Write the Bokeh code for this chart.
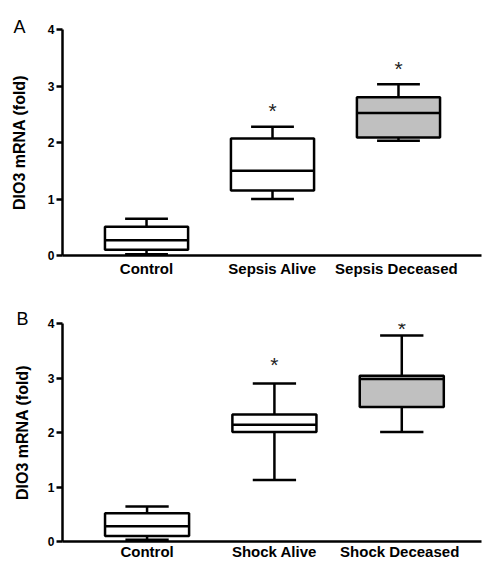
from bokeh.plotting import figure
from bokeh.layouts import column
from bokeh.models import ColumnDataSource, FixedTicker
from bokeh.embed import file_html
from bokeh.resources import INLINE

# ---------------- data ----------------
y_ticks = [0, 1, 2, 3, 4]
y_label = "DIO3 mRNA (fold)"

a_letter = "A"
a_categories = ["Control", "Sepsis Alive", "Sepsis  Deceased"]
a_low = [0.02, 1.00, 2.03]
a_q1 = [0.10, 1.15, 2.09]
a_median = [0.27, 1.50, 2.52]
a_q3 = [0.51, 2.07, 2.80]
a_high = [0.65, 2.28, 3.03]
a_star_groups = [2, 3]
a_star_y = [2.65, 3.39]

b_letter = "B"
b_categories = ["Control", "Shock Alive", "Shock  Deceased"]
b_low = [0.03, 1.13, 2.01]
b_q1 = [0.10, 2.01, 2.47]
b_median = [0.28, 2.14, 2.98]
b_q3 = [0.52, 2.33, 3.04]
b_high = [0.64, 2.90, 3.78]
b_star_groups = [2, 3]
b_star_y = [3.34, 4.00]

box_fills = ["white", "white", "#c0c0c0"]

FONT = "Liberation Sans"
BOX_W = 0.66
CAP_W = 0.34
LW = 2.5


def make_panel(cats, low, q1, med, q3, high, star_x, star_y, letter,
               width, height, b_left, b_right, b_top, b_bottom, x_range,
               label_standoff, letter_offset, letter_standoff, cat_standoff):
    xs = list(range(1, len(cats) + 1))
    src = ColumnDataSource(dict(
        x=xs, low=low, q1=q1, med=med, q3=q3, high=high, fill=box_fills,
        xl=[x - BOX_W / 2 for x in xs], xr=[x + BOX_W / 2 for x in xs],
        cl=[x - CAP_W / 2 for x in xs], cr=[x + CAP_W / 2 for x in xs],
    ))
    p = figure(width=width, height=height, x_range=x_range, y_range=(0, 4),
               output_backend="svg", toolbar_location=None,
               min_border_left=b_left, min_border_right=b_right,
               min_border_top=b_top, min_border_bottom=b_bottom)
    p.outline_line_color = None
    p.grid.visible = False
    p.background_fill_color = "white"
    p.border_fill_color = "white"

    # whiskers and caps
    p.segment(x0="x", y0="q3", x1="x", y1="high", source=src, line_color="black", line_width=LW)
    p.segment(x0="x", y0="low", x1="x", y1="q1", source=src, line_color="black", line_width=LW)
    p.segment(x0="cl", y0="high", x1="cr", y1="high", source=src, line_color="black", line_width=LW)
    p.segment(x0="cl", y0="low", x1="cr", y1="low", source=src, line_color="black", line_width=LW)
    # boxes
    p.vbar(x="x", bottom="q1", top="q3", width=BOX_W, source=src,
           fill_color="fill", line_color="black", line_width=LW)
    # medians
    p.segment(x0="xl", y0="med", x1="xr", y1="med", source=src, line_color="black", line_width=LW)

    # significance stars
    p.text(x=star_x, y=star_y, text=["*"] * len(star_x), text_align="center",
           text_baseline="middle", text_font_size="21px", text_color="#222222",
           y_offset=5)

    xa = p.xaxis[0]
    xa.ticker = FixedTicker(ticks=xs)
    xa.major_label_overrides = {x: c for x, c in zip(xs, cats)}
    xa.major_tick_line_color = None
    xa.minor_tick_line_color = None
    xa.major_tick_in = 0
    xa.major_tick_out = 0
    xa.minor_tick_in = 0
    xa.minor_tick_out = 0
    xa.axis_line_width = LW
    xa.major_label_text_font = FONT
    xa.major_label_text_font_style = "bold"
    xa.major_label_text_font_size = "15px"
    xa.major_label_text_color = "black"
    xa.major_label_standoff = cat_standoff

    ya = p.yaxis[0]
    ya.ticker = FixedTicker(ticks=y_ticks)
    ya.minor_tick_line_color = None
    ya.minor_tick_in = 0
    ya.minor_tick_out = 0
    ya.major_tick_in = 0
    ya.major_tick_out = 6
    ya.major_tick_line_width = LW
    ya.axis_line_width = LW
    ya.major_label_text_font = FONT
    ya.major_label_text_font_style = "bold"
    ya.major_label_text_font_size = "12px"
    ya.major_label_text_color = "black"
    ya.major_label_standoff = 2
    ya.axis_label = y_label
    ya.axis_label_text_font = FONT
    ya.axis_label_text_font_style = "bold"
    ya.axis_label_text_font_size = "16px"
    ya.axis_label_text_color = "black"
    ya.axis_label_standoff = label_standoff

    # panel letter
    p.title.text = letter
    p.title.align = "left"
    p.title.offset = letter_offset
    p.title.standoff = letter_standoff
    p.title.text_font = FONT
    p.title.text_font_size = "18px"
    p.title.text_font_style = "normal"
    p.title.text_color = "black"
    return p


p1 = make_panel(a_categories, a_low, a_q1, a_median, a_q3, a_high,
                a_star_groups, a_star_y, a_letter,
                492, 280, 62, 11, 29, 25, (0.333, 3.659), 17, -49, -14, 4)
p2 = make_panel(b_categories, b_low, b_q1, b_median, b_q3, b_high,
                b_star_groups, b_star_y, b_letter,
                492, 282, 59, 2, 43, 18, (0.336, 3.626), 14, -46, -10, 1)

layout = column(p1, p2)
open("out.html", "w").write(file_html(layout, INLINE))
